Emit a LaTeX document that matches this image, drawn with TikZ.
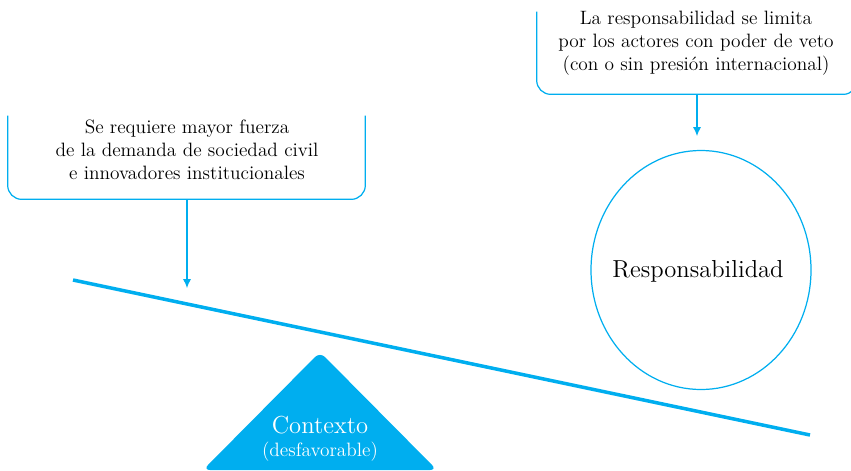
\documentclass[tikz,border=0pt]{standalone}
\usetikzlibrary{arrows.meta}

\definecolor{celeste}{RGB}{0,174,239}

\tikzset{
    marco/.style={draw=none, minimum width=#1, inner sep=0pt},
    texto/.style={align=center, font=\fontsize{11}{13}\selectfont},
    flecha/.style={draw=celeste, line width=0.6pt, -{Latex[length=5pt,width=4.5pt]}},
}

\begin{document}
\begin{tikzpicture}[x=0.02cm, y=-0.02cm]
            \useasboundingbox (0,0) rectangle (851,470);
            % Cajas abiertas arriba
            \node[marco=7.14cm, minimum height=1.66cm] (demanda) at (186.5,157.5) {};
            \node[marco=6.4cm, minimum height=1.64cm] (veto) at (697,53) {};
            \draw[celeste, line width=0.7pt, rounded corners=8pt]
                (demanda.north west) -- (demanda.south west) -- (demanda.south east) -- (demanda.north east);
            \draw[celeste, line width=0.7pt, rounded corners=8pt]
                (veto.north west) -- (veto.south west) -- (veto.south east) -- (veto.north east);
            \node[texto] (demandatxt) at (187,150) {Se requiere mayor fuerza\\ de la demanda de sociedad civil\\ e innovadores institucionales};
            \node[texto] (vetotxt) at (696,43) {La responsabilidad se limita\\ por los actores con poder de veto\\ (con o sin presión internacional)};

            % Balanza
            \draw[celeste, line width=2pt] (73,280) coordinate (izq) -- (810,435) coordinate (der);
            \coordinate (demandatip) at (187,288);
            \coordinate (vetotip) at (697,136);
            \draw[flecha] (demandatip |- demanda.south) -- (demandatip);
            \draw[flecha] (vetotip |- veto.south) -- (vetotip);

            \node[font=\fontsize{14}{16}\selectfont] (resp) at (698,271) {Responsabilidad};
            \draw[celeste, line width=0.7pt] (701,270) ellipse [x radius=110, y radius=119.5];

            % Triangulo (contexto)
            \fill[celeste, rounded corners=4pt] (320,352) -- (437,470) -- (203,470) -- cycle;
            \node[white, align=center, font=\fontsize{14}{16}\selectfont] (contexto) at (320,425) {Contexto};
            \node[white, font=\fontsize{11}{13}\selectfont] (desfav) at (320,452) {(desfavorable)};
        \end{tikzpicture}
\end{document}
